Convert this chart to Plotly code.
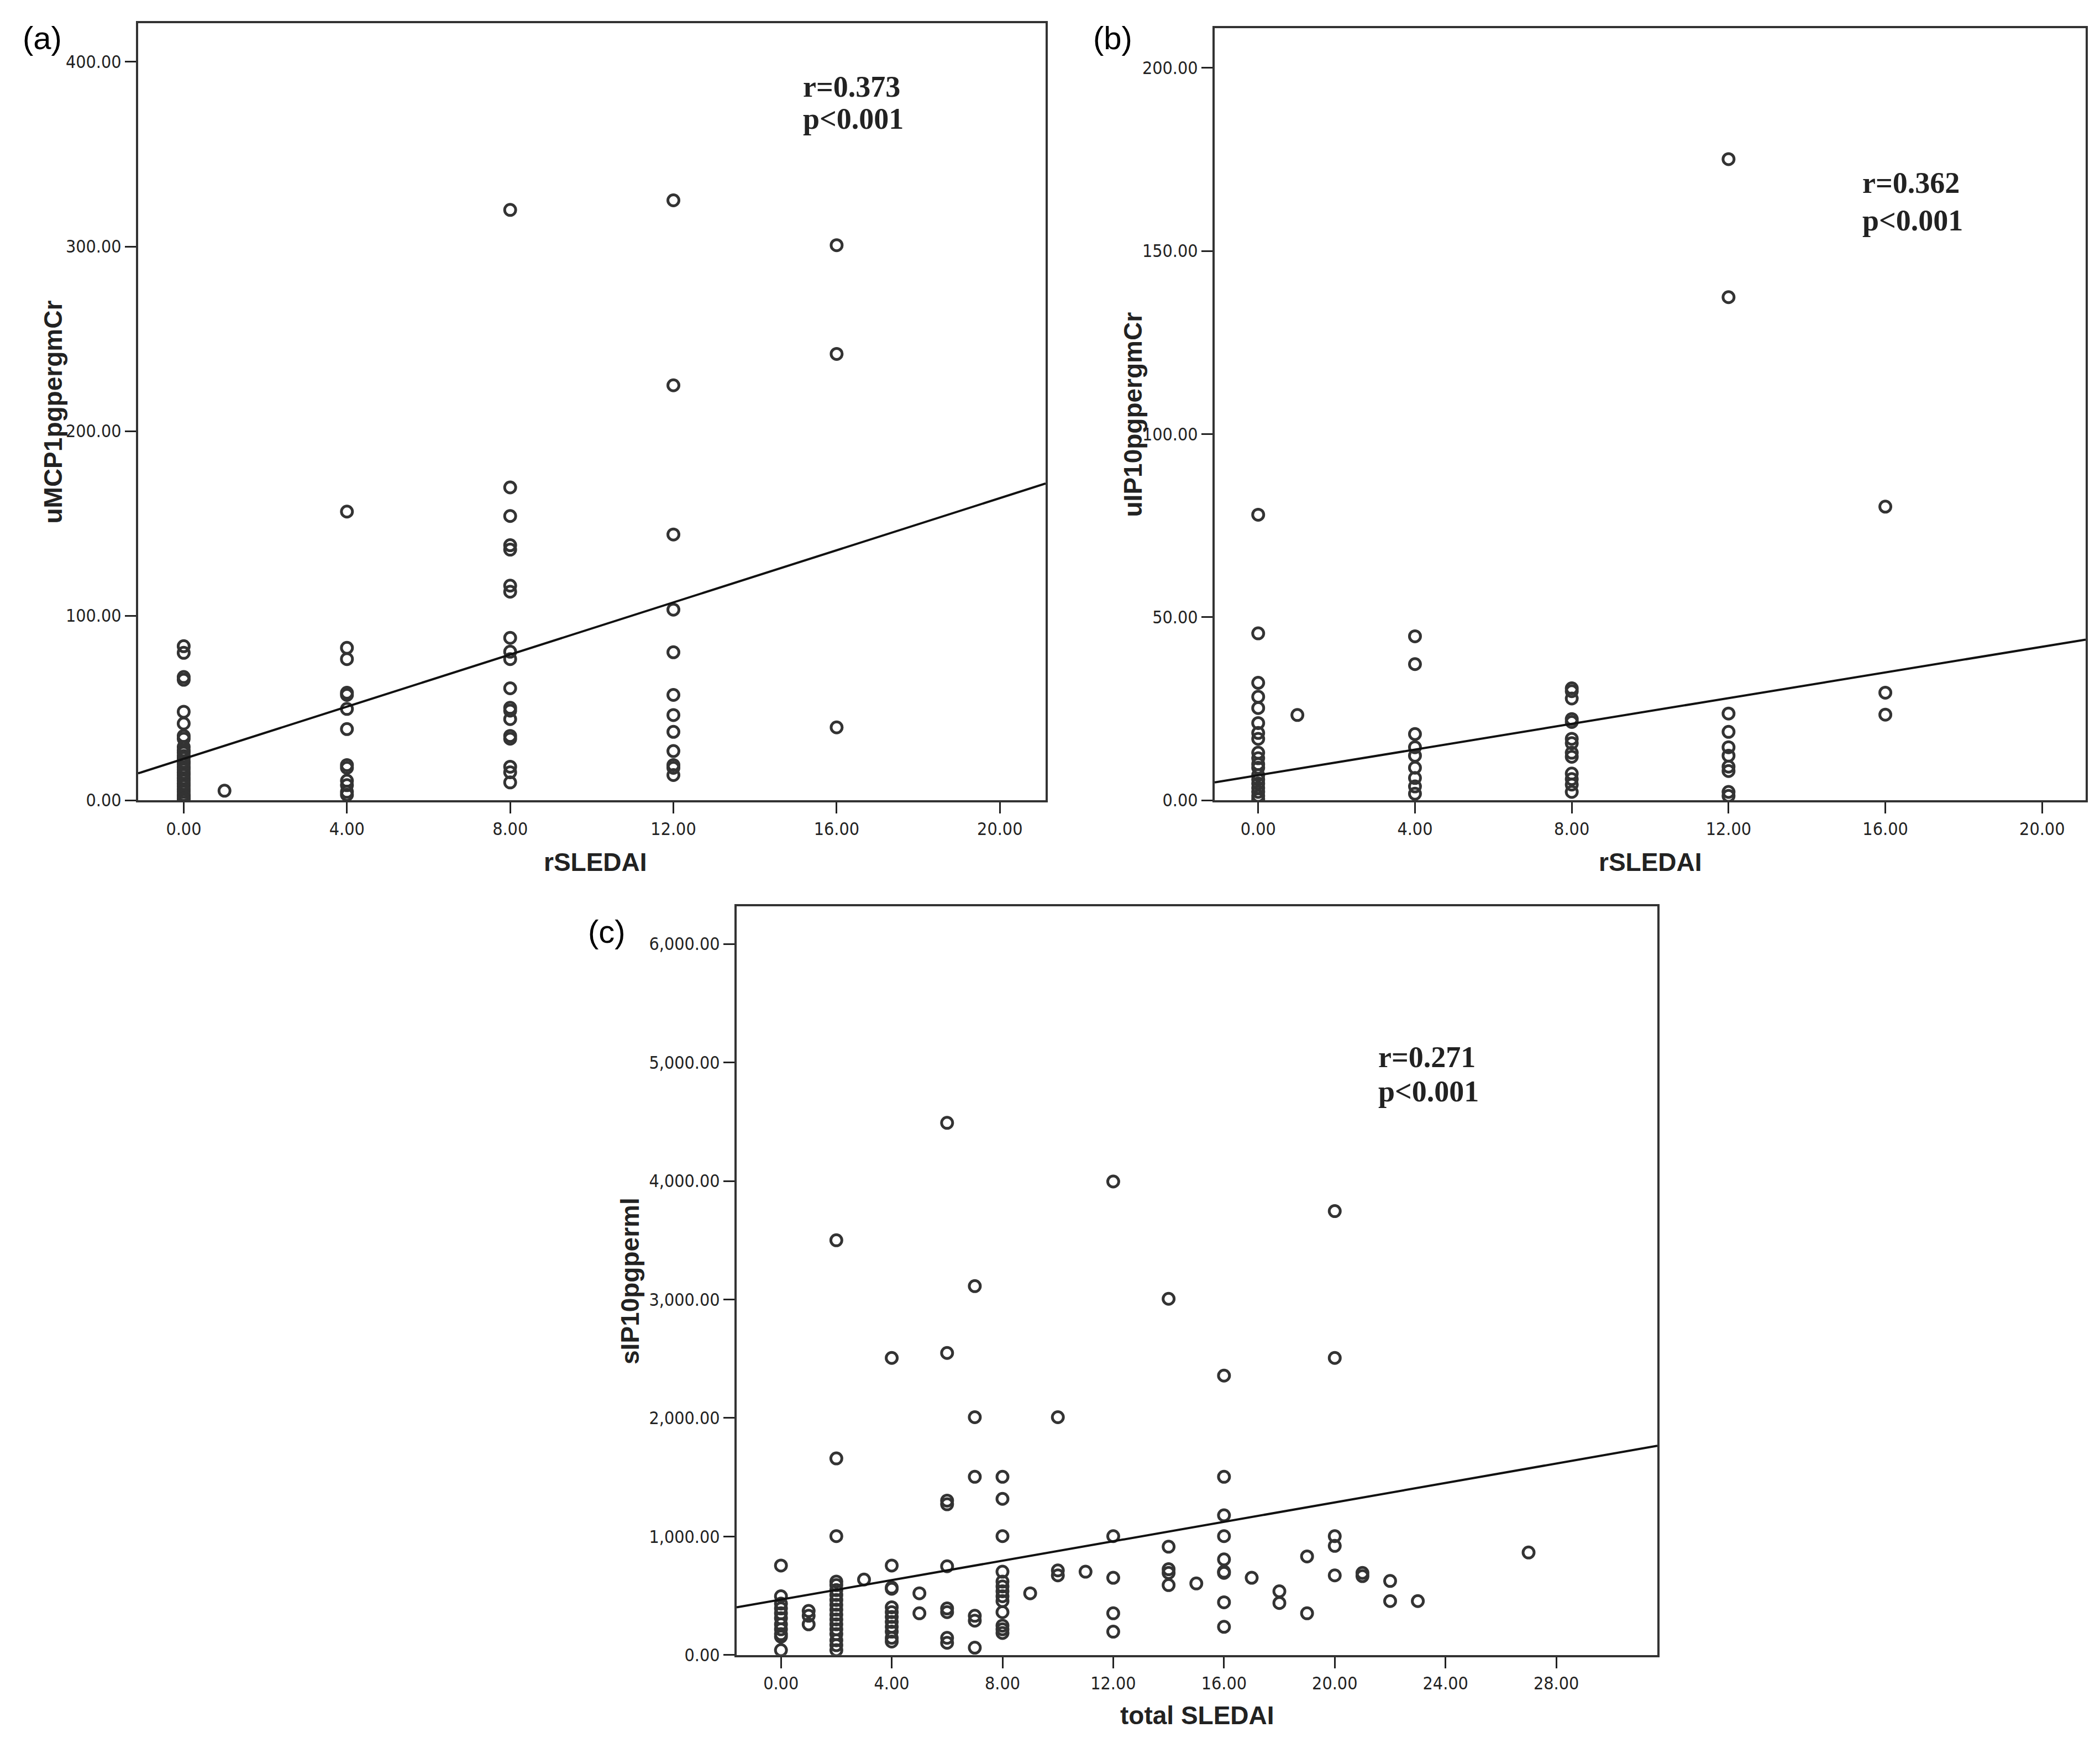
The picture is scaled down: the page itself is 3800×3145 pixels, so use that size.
import plotly.graph_objects as go

W, H = 3800, 3145

# ---- panel (a): rSLEDAI vs uMCP1 (pg/mg Cr) ------------------------------
a_x0 = [0.0] * 29
a_y0 = [83.5, 79.9, 66.8, 65.3, 48.0, 41.6, 34.9, 33.4, 28.9, 27.0, 25.8, 24.0,
        22.8, 21.0, 19.7, 18.0, 16.7, 15.0, 13.7, 12.0, 10.6, 9.0, 7.6, 6.0,
        4.6, 3.0, 2.4, 1.2, 0.6]
a_x_rest = [1, 4, 4, 4, 4, 4, 4, 4, 4, 4, 4, 4, 4, 4,
            8, 8, 8, 8, 8, 8, 8, 8, 8, 8, 8, 8, 8, 8, 8, 8, 8, 8, 8,
            12, 12, 12, 12, 12, 12, 12, 12, 12, 12, 12, 12,
            16, 16, 16]
a_y_rest = [5.2,
            156.4, 82.6, 76.5, 58.3, 57.1, 49.5, 38.6, 19.1, 17.6, 10.6, 8.2, 4.6, 3.0,
            319.8, 169.5, 154.0, 138.2, 135.8, 116.3, 113.0, 88.0, 80.5, 76.5, 60.7,
            50.1, 48.6, 44.0, 34.9, 33.4, 18.2, 15.2, 9.7,
            325.0, 224.8, 144.0, 103.3, 80.2, 57.1, 46.2, 37.1, 26.7, 19.1, 17.6, 13.7,
            300.7, 241.8, 39.5]
a_fit = (22.5, 7.06)          # intercept, slope
a_stats = ["r=0.373", "p<0.001"]

# ---- panel (b): rSLEDAI vs uIP10 (pg/mg Cr) ------------------------------
b_x = [0] * 19 + [1] + [4] * 9 + [8] * 13 + [12] * 10 + [16] * 3
b_y = [78.0, 45.6, 32.1, 28.3, 25.2, 21.1, 18.4, 16.8, 13.0, 11.5, 9.9, 8.9, 6.9,
       5.7, 4.6, 3.4, 2.3, 1.2, 0.3,
       23.3,
       44.8, 37.2, 18.1, 14.5, 12.2, 8.9, 6.1, 3.8, 1.8,
       30.6, 29.8, 27.8, 22.2, 21.4, 16.8, 15.6, 13.0, 11.9, 7.3, 5.8, 4.3, 2.3,
       175.1, 137.4, 23.7, 18.7, 14.5, 12.2, 9.2, 8.0, 2.3, 1.2,
       80.2, 29.4, 23.4]
b_fit = (6.85, 1.755)
b_stats = ["r=0.362", "p<0.001"]

# ---- panel (c): total SLEDAI vs sIP10 (pg/ml) ----------------------------
c_groups = {
    0: [755, 496, 434, 393, 352, 310, 259, 217, 176, 155, 41],
    1: [372, 331, 259],
    2: [3500, 1659, 1003, 620, 590, 548, 507, 465, 424, 383, 341, 300, 259, 217,
        176, 124, 83, 41],
    3: [637],
    4: [2507, 755, 569, 559, 403, 362, 321, 279, 238, 197, 145, 114],
    5: [521, 352],
    6: [4491, 2549, 1303, 1272, 749, 393, 362, 145, 103],
    7: [3113, 2007, 1504, 331, 290, 62],
    8: [1504, 1318, 1003, 703, 620, 579, 538, 496, 455, 362, 248, 217, 186],
    9: [521],
    10: [2007, 714, 672],
    11: [703],
    12: [3996, 1003, 652, 352, 197],
    14: [3006, 914, 724, 693, 590],
    15: [604],
    16: [2358, 1504, 1179, 1003, 807, 703, 693, 445, 238],
    17: [652],
    18: [538, 439],
    19: [832, 352],
    20: [3746, 2507, 1003, 921, 672],
    21: [693, 666],
    22: [625, 455],
    23: [455],
    27: [865],
}
c_fit = (468.0, 41.0)
c_stats = ["r=0.271", "p<0.001"]

c_x = [k for k, v in c_groups.items() for _ in v]
c_y = [y for v in c_groups.values() for y in v]

# ---- styling ---------------------------------------------------------------
INK = "#222222"
TICK_FONT = dict(family="Liberation Sans Narrow, DejaVu Sans Condensed, Arial Narrow, sans-serif",
                 size=32, color=INK)
TITLE_FONT = dict(family="Liberation Sans, Arial, sans-serif", size=46, color=INK)
STAT_FONT = dict(family="Liberation Serif, Georgia, serif", size=54, color=INK)
LABEL_FONT = dict(family="Liberation Sans, Arial, sans-serif", size=58, color="#000")
MARKER = dict(symbol="circle-open", size=20, color="#333333", line=dict(width=5))


def px(x):
    return x / W


def py(y):
    return 1 - y / H


def axis_style(dom, rng, dtick, anchor):
    return dict(domain=dom, range=rng, anchor=anchor, dtick=dtick, tick0=0,
                showline=True, mirror=True, linecolor="#333333", linewidth=4,
                ticks="outside", ticklen=20, tickwidth=3, tickcolor=INK,
                showgrid=False, zeroline=False, tickfont=TICK_FONT,
                tickformat=",.2f", fixedrange=True)


panels = [
    # xs, ys, fit, x range, y range, x dom px, y dom px, x dtick, y dtick
    (a_x0 + a_x_rest, a_y0 + a_y_rest, a_fit, [-1.116, 21.12], [0, 421],
     (242, 1884), (34, 1449), 4, 100),
    (b_x, b_y, b_fit, [-1.11, 21.11], [0, 210.9],
     (2190, 3766), (43, 1449), 4, 50),
    (c_x, c_y, c_fit, [-1.6, 31.65], [0, 6318],
     (1325, 2991), (1642, 3005), 4, 1000),
]

fig = go.Figure()
layout = {}
for i, (xs, ys, fit, xr, yr, xd, yd, xdt, ydt) in enumerate(panels):
    n = "" if i == 0 else str(i + 1)
    fig.add_trace(go.Scatter(x=xs, y=ys, mode="markers", marker=MARKER,
                             xaxis="x" + n, yaxis="y" + n, showlegend=False))
    b0, b1 = fit
    fig.add_trace(go.Scatter(x=xr, y=[b0 + b1 * xr[0], b0 + b1 * xr[1]],
                             mode="lines", line=dict(color="#111", width=4),
                             xaxis="x" + n, yaxis="y" + n, showlegend=False))
    layout["xaxis" + n] = axis_style([px(xd[0]), px(xd[1])], xr, xdt, "y" + n)
    layout["yaxis" + n] = axis_style([py(yd[1]), py(yd[0])], yr, ydt, "x" + n)

fig.update_layout(**layout)

ann = []


def text(x, y, s, font, xanchor="center", **kw):
    ann.append(dict(x=px(x), y=py(y), xref="paper", yref="paper", text=s,
                    showarrow=False, font=font, xanchor=xanchor,
                    yanchor="middle", **kw))


# panel labels
text(68, 61, "(a)", LABEL_FONT)
text(2005, 61, "(b)", LABEL_FONT)
text(1090, 1688, "(c)", LABEL_FONT)

# axis titles
text(1069, 1561, "<b>rSLEDAI</b>", TITLE_FONT)
text(2978, 1561, "<b>rSLEDAI</b>", TITLE_FONT)
text(2158, 3115, "<b>total SLEDAI</b>", TITLE_FONT)
text(88, 742, "<b>uMCP1pgpergmCr</b>", TITLE_FONT, textangle=-90)
text(2042, 747, "<b>uIP10pgpergmCr</b>", TITLE_FONT, textangle=-90)
text(1132, 2324, "<b>sIP10pgperml</b>", TITLE_FONT, textangle=-90)

# correlation statistics
for (x0, y1, y2), stats in [((1443, 150, 208), a_stats),
                            ((3360, 325, 393), b_stats),
                            ((2484, 1917, 1979), c_stats)]:
    text(x0, y1, "<b>%s</b>" % stats[0], STAT_FONT, xanchor="left")
    text(x0, y2, "<b>%s</b>" % stats[1], STAT_FONT, xanchor="left")

fig.update_layout(width=W, height=H, margin=dict(l=0, r=0, t=0, b=0),
                  paper_bgcolor="white", plot_bgcolor="white",
                  annotations=ann, showlegend=False)

fig.write_html("out.html")
